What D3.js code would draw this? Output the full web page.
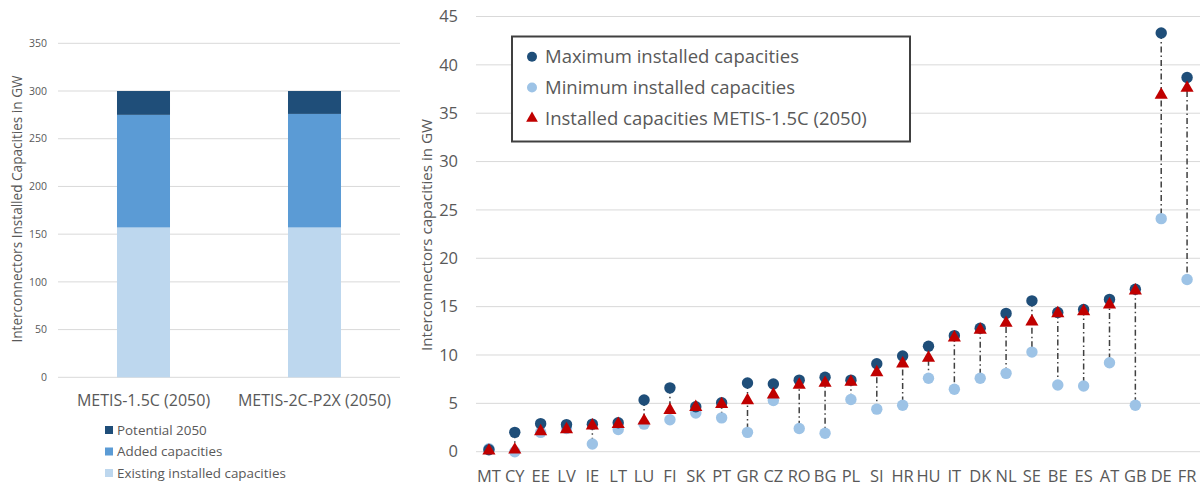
<!DOCTYPE html>
<html><head><meta charset="utf-8">
<script src="https://cdn.jsdelivr.net/npm/d3@7"></script>
<style>html,body{margin:0;padding:0;background:#fff;}svg{display:block;font-family:"Open Sans",sans-serif;}</style>
</head><body><svg id="c" width="1200" height="486"></svg>
<script>
// Left chart data
const scenarios = ["METIS-1.5C (2050)", "METIS-2C-P2X (2050)"];
const existing = [157, 157];
const added = [118, 119];
const potential = [25, 24];
const leftSeries = ["Existing installed capacities", "Added capacities", "Potential 2050"];
const leftColors = ["#BDD7EE", "#5B9BD5", "#1F4E79"];
const leftTicks = [0, 50, 100, 150, 200, 250, 300, 350];

// Right chart data
const countries = ["MT","CY","EE","LV","IE","LT","LU","FI","SK","PT","GR","CZ","RO","BG","PL","SI","HR","HU","IT","DK","NL","SE","BE","ES","AT","GB","DE","FR"];
const maxCap = [0.2,2.0,2.9,2.8,2.85,3.0,5.35,6.6,4.65,5.07,7.1,7.0,7.4,7.7,7.4,9.1,9.9,10.9,12.0,12.76,14.3,15.6,14.4,14.7,15.75,16.8,43.3,38.7];
const minCap = [0.3,0.0,2.0,2.4,0.8,2.3,2.85,3.3,4.0,3.5,2.0,5.3,2.4,1.9,5.4,4.4,4.8,7.6,6.45,7.6,8.1,10.3,6.9,6.8,9.2,4.8,24.1,17.8];
const instCap = [0.1,0.2,2.1,2.3,2.7,2.85,3.2,4.3,4.6,4.9,5.3,5.9,6.9,7.1,7.2,8.2,9.1,9.7,11.8,12.6,13.3,13.45,14.3,14.5,15.2,16.65,36.9,37.6];
const rightTicks = [0,5,10,15,20,25,30,35,40,45];
const rightLegend = ["Maximum installed capacities", "Minimum installed capacities", "Installed capacities METIS-1.5C (2050)"];

const svg = d3.select("#c");
const grid = "#D9D9D9", txt = "#595959";

// ---------- Left chart ----------
const lx = d3.scaleBand().domain(scenarios).range([58, 400]).paddingInner(0.69).paddingOuter(0.345);
const ly = d3.scaleLinear().domain([0, 350]).range([377.3, 43.3]);
const L = svg.append("g");
L.selectAll("line.g").data(leftTicks).join("line")
  .attr("x1", 58).attr("x2", 400).attr("y1", d => ly(d)).attr("y2", d => ly(d))
  .attr("stroke", grid).attr("stroke-width", 1);
L.selectAll("text.yt").data(leftTicks).join("text")
  .attr("x", 47).attr("y", d => ly(d)).attr("dy", "0.35em").attr("text-anchor", "end")
  .attr("font-size", 10.5).attr("fill", txt).text(d => d);
const stackData = scenarios.map((s, i) => ({s, e: existing[i], a: added[i], p: potential[i]}));
const stack = d3.stack().keys(["e", "a", "p"])(stackData);
L.selectAll("g.s").data(stack).join("g").attr("fill", (d, i) => leftColors[i])
  .selectAll("rect").data(d => d).join("rect")
  .attr("x", d => lx(d.data.s)).attr("width", lx.bandwidth())
  .attr("y", d => ly(d[1])).attr("height", d => ly(d[0]) - ly(d[1]));
L.selectAll("text.xl").data(scenarios).join("text")
  .attr("x", d => lx(d) + lx.bandwidth() / 2).attr("y", 400).attr("dy", "0.35em").attr("text-anchor", "middle")
  .attr("font-size", 16).attr("fill", txt).text(d => d);
L.append("text").attr("transform", "translate(17,209) rotate(-90)").attr("text-anchor", "middle")
  .attr("dy", "0.35em").attr("font-size", 13.6).attr("fill", txt).text("Interconnectors Installed Capacities in GW");
const lleg = [2, 1, 0];
L.selectAll("g.lg").data(lleg).join("g")
  .attr("transform", (d, i) => `translate(105,${430 + i * 21.5})`)
  .each(function (d) {
    const g = d3.select(this);
    g.append("rect").attr("x", 0).attr("y", -4).attr("width", 8).attr("height", 8).attr("fill", leftColors[d]);
    g.append("text").attr("x", 12).attr("y", 0).attr("dy", "0.35em").attr("font-size", 13.4).attr("fill", txt).text(leftSeries[d]);
  });

// ---------- Right chart ----------
const rx = d3.scaleBand().domain(countries).range([476, 1200]);
const ry = d3.scaleLinear().domain([0, 45]).range([451.7, 16.5]);
const R = svg.append("g");
R.selectAll("line.g").data(rightTicks).join("line")
  .attr("x1", 476).attr("x2", 1200).attr("y1", d => ry(d)).attr("y2", d => ry(d))
  .attr("stroke", grid).attr("stroke-width", 1);
R.selectAll("text.yt").data(rightTicks).join("text")
  .attr("x", 458).attr("y", d => ry(d)).attr("dy", "0.35em").attr("text-anchor", "end")
  .attr("font-size", 16.5).attr("fill", txt).text(d => d);
R.selectAll("text.xl").data(countries).join("text")
  .attr("x", d => rx(d) + rx.bandwidth() / 2).attr("y", 476.5).attr("dy", "0.35em").attr("text-anchor", "middle")
  .attr("font-size", 16.5).attr("fill", txt).text(d => d);
R.append("text").attr("transform", "translate(427,235) rotate(-90)").attr("text-anchor", "middle")
  .attr("dy", "0.35em").attr("font-size", 15.2).attr("fill", txt).text("Interconnectors capacities in GW");
const cx = d => rx(d) + rx.bandwidth() / 2;
// dash-dot connectors
R.selectAll("line.c").data(countries).join("line")
  .attr("x1", cx).attr("x2", cx)
  .attr("y1", (d, i) => ry(maxCap[i])).attr("y2", (d, i) => ry(minCap[i]))
  .attr("stroke", "#404040").attr("stroke-width", 1.5).attr("stroke-dasharray", "6,3,1.5,3");
R.selectAll("circle.mn").data(countries).join("circle")
  .attr("cx", cx).attr("cy", (d, i) => ry(minCap[i])).attr("r", 5.7).attr("fill", "#9DC3E6");
R.selectAll("circle.mx").data(countries).join("circle")
  .attr("cx", cx).attr("cy", (d, i) => ry(maxCap[i])).attr("r", 5.7).attr("fill", "#1F4E79");
const tri = d3.symbol().type(d3.symbolTriangle).size(75);
R.selectAll("path.t").data(countries).join("path")
  .attr("transform", (d, i) => `translate(${cx(d)},${ry(instCap[i])})`).attr("d", tri).attr("fill", "#C00000");
// legend
const lg = R.append("g");
lg.append("rect").attr("x", 512).attr("y", 36.5).attr("width", 398).attr("height", 105)
  .attr("fill", "#fff").attr("stroke", "#404040").attr("stroke-width", 2);
rightLegend.forEach((t, i) => {
  const y = 56.7 + i * 30.8;
  if (i === 0) lg.append("circle").attr("cx", 532).attr("cy", y).attr("r", 5).attr("fill", "#1F4E79");
  if (i === 1) lg.append("circle").attr("cx", 532).attr("cy", y).attr("r", 5).attr("fill", "#9DC3E6");
  if (i === 2) lg.append("path").attr("transform", `translate(532,${y})`).attr("d", d3.symbol().type(d3.symbolTriangle).size(60)).attr("fill", "#C00000");
  lg.append("text").attr("x", 545).attr("y", y).attr("dy", "0.35em").attr("font-size", 18.5).attr("fill", txt).text(t);
});
</script></body></html>
